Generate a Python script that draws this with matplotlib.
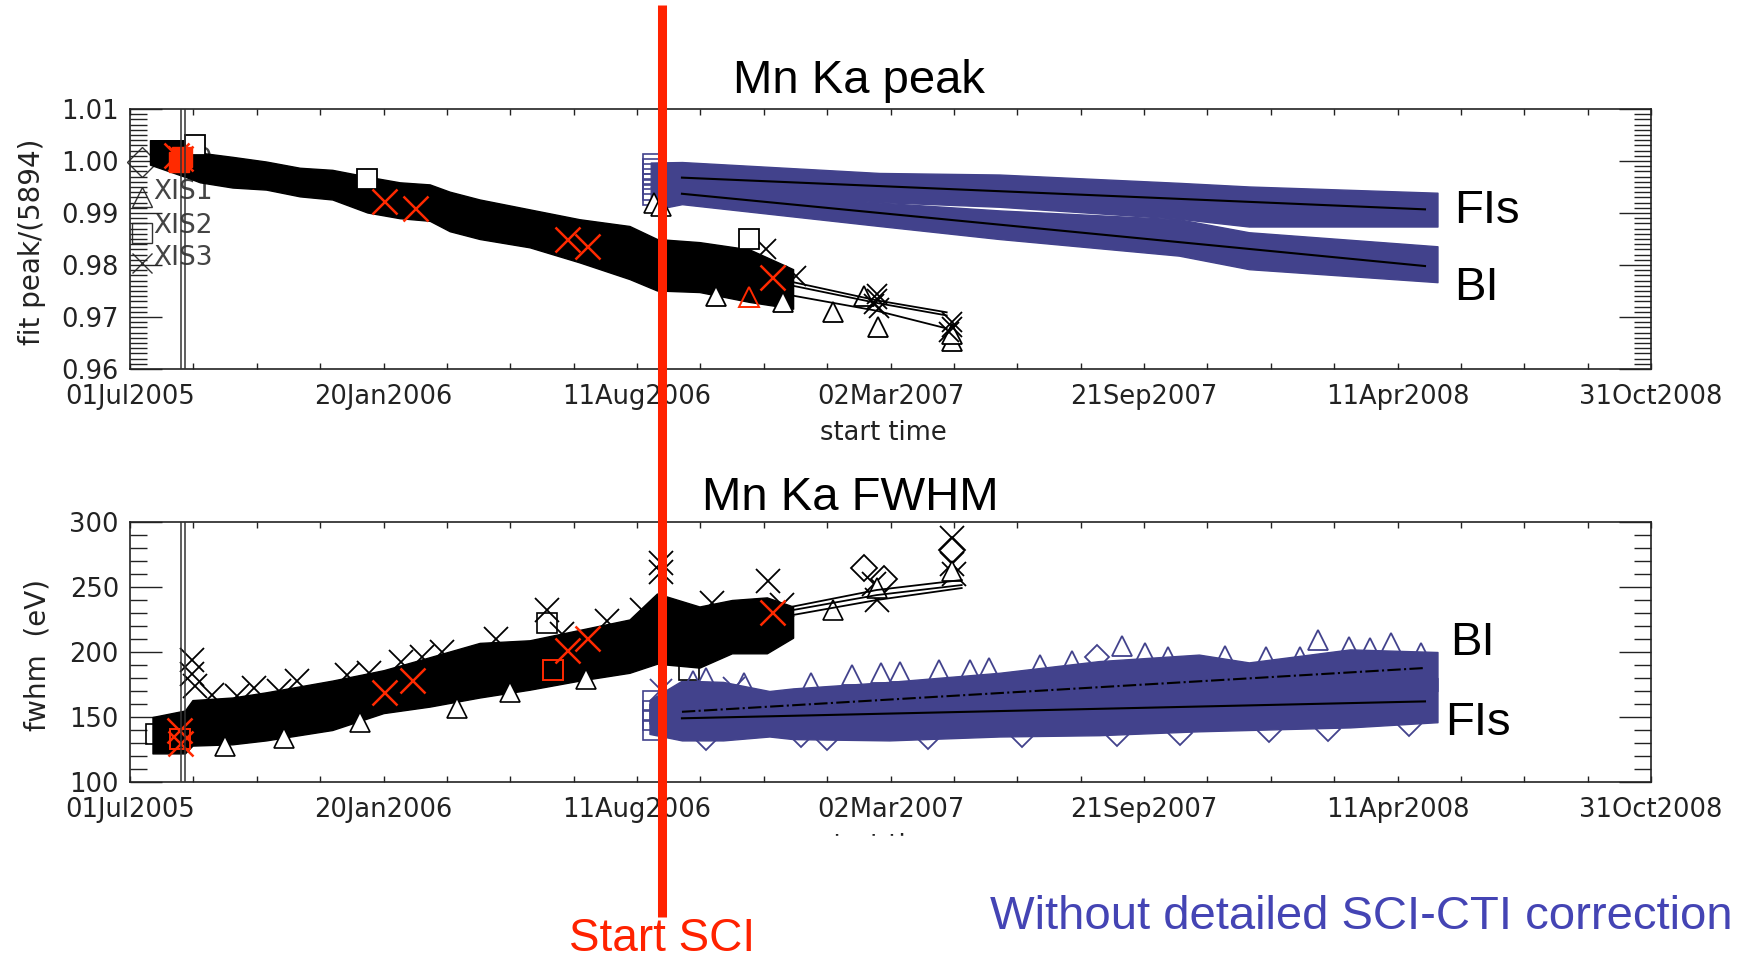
import pandas as pd
import matplotlib
matplotlib.use('Agg')
import matplotlib.pyplot as plt
import matplotlib.dates as mdates
from matplotlib.ticker import FixedLocator, MultipleLocator, FormatStrFormatter
from matplotlib.transforms import blended_transform_factory
from matplotlib.patches import Rectangle

plt.rcParams['font.family'] = ['DejaVu Sans']

BLUE = '#42428c'
RED = '#ff2a00'
W, H = 1738, 961

# ---------------- Mn Ka peak (upper panel) ----------------
# pre-SCI cloud of all four XIS, lower / upper envelope
pk_pre_t = ['2005-07-17', '2005-08-16', '2005-08-26', '2005-09-21', '2005-10-18', '2005-11-14',
            '2005-12-10', '2006-01-07', '2006-02-02', '2006-02-26', '2006-03-14', '2006-04-07',
            '2006-05-17', '2006-06-26', '2006-08-05', '2006-08-27', '2006-09-30', '2006-11-09',
            '2006-12-14']
pk_pre_lo = [0.9993, 0.9968, 0.9959, 0.9949, 0.9945, 0.9932, 0.9926, 0.9901, 0.9890, 0.9885,
             0.9865, 0.9850, 0.9834, 0.9805, 0.9773, 0.9751, 0.9748, 0.9729, 0.9716]
pk_pre_hi = [1.0040, 1.0040, 1.0016, 1.0008, 0.9999, 0.9987, 0.9983, 0.9970, 0.9959, 0.9955,
             0.9941, 0.9926, 0.9907, 0.9888, 0.9875, 0.9850, 0.9844, 0.9830, 0.9792]

# sparse pre-SCI points after the cloud
pk_tri_t = ['2006-10-13', '2006-12-06', '2007-01-15', '2007-02-09', '2007-02-20', '2007-04-20', '2007-04-20']
pk_tri_v = [0.9740, 0.9729, 0.9710, 0.9741, 0.9681, 0.9653, 0.9668]
pk_x_t = ['2006-11-22', '2006-12-16', '2007-02-19', '2007-02-19', '2007-02-17', '2007-02-21',
          '2007-04-20', '2007-04-20', '2007-04-18']
pk_x_v = [0.9830, 0.9779, 0.9745, 0.9735, 0.9725, 0.9718, 0.9690, 0.9680, 0.9672]
pk_sq_t = ['2006-11-09', '2006-01-07', '2005-08-22']
pk_sq_v = [0.9850, 0.9965, 1.0030]

# per-sensor trend lines (pre-SCI tail)
pk_line_t = ['2006-12-14', '2007-02-19', '2007-04-16']
pk_line1 = [0.9767, 0.9732, 0.9709]
pk_line2 = [0.9760, 0.9727, 0.9703]
pk_line3 = [0.9741, 0.9712, 0.9678]

# red sensor points
pk_red_t = ['2005-08-07', '2005-08-10', '2006-01-20', '2006-02-14', '2006-06-16', '2006-07-02', '2006-11-27']
pk_red_v = [1.0012, 1.0006, 0.9923, 0.9910, 0.9850, 0.9837, 0.9777]
pk_red_tri_t = ['2006-11-09']
pk_red_tri_v = [0.9739]
pk_red_sq_t = ['2005-08-09', '2005-08-12']
pk_red_sq_v = [0.9999, 1.0008]

# post-SCI, FIs and BI clouds
pk_fi_t = ['2006-08-22', '2006-09-16', '2007-02-21', '2007-05-28', '2007-10-19', '2007-12-14', '2008-05-13']
pk_fi_lo = [0.9950, 0.9945, 0.9921, 0.9912, 0.9889, 0.9874, 0.9874]
pk_fi_hi = [0.9997, 0.9998, 0.9977, 0.9974, 0.9958, 0.9951, 0.9939]
pk_bi_t = ['2006-08-22', '2006-09-16', '2007-02-21', '2007-05-28', '2007-10-19', '2007-12-14', '2008-05-13']
pk_bi_lo = [0.9905, 0.9917, 0.9875, 0.9850, 0.9818, 0.9792, 0.9767]
pk_bi_hi = [0.9950, 0.9950, 0.9920, 0.9905, 0.9888, 0.9863, 0.9836]
pk_fit_t = ['2006-09-16', '2008-05-03']
pk_fi_fit = [0.9968, 0.9907]
pk_bi_fit = [0.9937, 0.9798]
pk_start_sq_t = ['2006-08-24'] * 7
pk_start_sq_v = [0.9995, 0.9985, 0.9975, 0.9965, 0.9955, 0.9945, 0.9935]
pk_start_tri_t = ['2006-08-25', '2006-08-30']
pk_start_tri_v = [0.9920, 0.9913]

# ---------------- Mn Ka FWHM (lower panel) ----------------
fw_pre_t = ['2005-07-19', '2005-08-14', '2005-08-20', '2005-09-21', '2005-10-18', '2005-12-10',
            '2006-01-20', '2006-02-26', '2006-04-07', '2006-05-17', '2006-06-26', '2006-08-05',
            '2006-08-27', '2006-09-30', '2006-10-26', '2006-11-23', '2006-12-14']
fw_pre_lo = [122, 122, 128, 129, 132, 140, 153, 158, 165, 171, 178, 184, 191, 188, 199, 199, 211]
fw_pre_hi = [150, 155, 163, 165, 169, 178, 186, 196, 207, 209, 217, 225, 245, 235, 240, 242, 235]

fw_x_t = ['2005-08-20', '2005-08-20', '2005-08-22', '2005-09-05', '2005-09-25', '2005-10-08',
          '2005-10-28', '2005-11-12', '2005-12-22', '2006-01-08', '2006-02-03', '2006-02-20',
          '2006-03-08', '2006-04-20', '2006-05-31', '2006-06-12', '2006-07-18', '2006-08-15',
          '2006-08-30', '2006-08-30', '2006-10-10', '2006-11-24', '2006-12-05', '2007-02-19',
          '2007-02-17', '2007-04-20', '2007-04-20', '2007-04-22']
fw_x_v = [194, 183, 174, 167, 166, 172, 170, 178, 182, 184, 192, 196, 200, 210, 232, 214,
          224, 232, 268.5, 261.5, 238, 255, 236, 240, 252, 287.7, 268, 260]
fw_dia_t = ['2007-02-09', '2007-04-20', '2007-02-25']
fw_dia_v = [264.6, 278.5, 256]
fw_tri_t = ['2005-09-15', '2005-11-01', '2006-01-01', '2006-03-20', '2006-05-01', '2006-07-01',
            '2007-01-15', '2007-02-19', '2007-04-20']
fw_tri_v = [128, 134, 146, 157, 169, 179, 232.3, 249, 262]
fw_sq_t = ['2005-07-22', '2006-05-31', '2006-09-22']
fw_sq_v = [137, 222, 186]

fw_line_t = ['2006-12-14', '2007-02-19', '2007-04-28']
fw_line1 = [235.0, 247.7, 255.4]
fw_line2 = [232.3, 243.8, 251.5]
fw_line3 = [228.5, 240.0, 249.2]

fw_red_t = ['2005-08-09', '2005-08-10', '2006-01-20', '2006-02-12', '2006-06-16', '2006-07-02', '2006-11-27']
fw_red_v = [140, 130, 169, 178.5, 201.5, 210.8, 230.8]
fw_red_sq_t = ['2005-08-10', '2006-06-05']
fw_red_sq_v = [133, 186]

fw_fi_t = ['2006-08-21', '2006-09-16', '2006-10-19', '2006-11-25', '2006-12-14', '2007-03-01',
           '2007-05-28', '2007-08-16', '2007-11-04', '2007-12-14', '2008-03-04', '2008-05-13']
fw_fi_lo = [137, 132, 132, 135, 133, 132, 135, 136, 139, 140, 142, 146]
fw_fi_hi = [160, 168, 168, 166, 167, 170, 172, 175, 178, 178, 180, 180]
fw_bi_lo = [145, 140, 142, 145, 146, 148, 152, 158, 162, 164, 166, 170]
fw_bi_hi = [163, 178, 177, 170, 172, 177, 184, 193, 198, 192, 202, 200]
fw_fit_t = ['2006-09-16', '2008-05-03']
fw_fi_fit = [149, 162]
fw_bi_fit = [154, 187.7]
fw_bi_tri_t = ['2006-09-25', '2006-10-05', '2006-11-05', '2006-12-28', '2007-01-30', '2007-02-22',
               '2007-03-10', '2007-04-10', '2007-05-05', '2007-05-20', '2007-06-30', '2007-07-25',
               '2007-09-03', '2007-09-22', '2007-10-10', '2007-11-25', '2007-12-28', '2008-01-24',
               '2008-02-07', '2008-03-03', '2008-03-20', '2008-04-06', '2008-04-30']
fw_bi_tri_v = [178, 180, 176, 176, 182, 184, 185, 186, 186, 187.7, 190, 193, 205, 199, 196,
               197, 196, 196, 209, 204, 203, 207, 199]
fw_bi_dia_t = ['2007-08-14', '2006-10-05', '2006-12-20', '2007-01-10', '2007-04-01', '2007-06-15',
               '2007-08-30', '2007-10-20', '2007-12-30', '2008-02-15', '2008-04-20']
fw_bi_dia_v = [196, 134, 136, 134, 135, 136, 137, 138, 140, 141, 145]
fw_bi_x_t = ['2006-10-28', '2006-08-30']
fw_bi_x_v = [172, 171]
fw_start_sq_t = ['2006-08-24'] * 4
fw_start_sq_v = [162, 155, 148, 140]

# x axis (dates)
x_ticks = ['2005-07-01', '2006-01-20', '2006-08-11', '2007-03-02', '2007-09-21', '2008-04-11', '2008-10-31']
sci_start = '2006-08-31'
launch = ['2005-08-11', '2005-08-14']


def d(lst):
    return pd.to_datetime(lst)


fig = plt.figure(figsize=(W / 100, H / 100), dpi=100)
ax1 = fig.add_axes([130 / W, 1 - 369 / H, 1521 / W, 260 / H])
ax2 = fig.add_axes([130 / W, 1 - 782 / H, 1521 / W, 260 / H])

major = d(x_ticks)
minor = [major[0] + (major[1] - major[0]) * k / 4 for k in range(25)]

for ax in (ax1, ax2):
    ax.set_xlim(major[0], major[-1])
    ax.xaxis.set_major_locator(FixedLocator(mdates.date2num(major)))
    ax.xaxis.set_minor_locator(FixedLocator(mdates.date2num(minor)))
    ax.xaxis.set_major_formatter(mdates.DateFormatter('%d%b%Y'))
    ax.tick_params(axis='x', which='both', direction='in', top=True, length=4.5, width=1,
                   pad=11, labelsize=18.5, colors='#222')
    ax.tick_params(axis='y', which='both', direction='in', right=True, width=1,
                   pad=8, labelsize=18.5, colors='#222')
    ax.tick_params(axis='y', which='major', length=23)
    ax.tick_params(axis='y', which='minor', length=12)
    for s in ax.spines.values():
        s.set_linewidth(1.2)
        s.set_color('#222')
    for lt in d(launch):
        ax.axvline(lt, color='#333', lw=1.1, zorder=6)

# ---- upper panel ----
ax1.set_ylim(0.96, 1.01)
ax1.yaxis.set_major_locator(MultipleLocator(0.01))
ax1.yaxis.set_minor_locator(MultipleLocator(0.001))
ax1.yaxis.set_major_formatter(FormatStrFormatter('%.2f'))

# legend of the sensors (under the cloud)
leg_sym = ['D', '^', 's', 'x']
leg_txt = ['XIS0', 'XIS1', 'XIS2', 'XIS3']
leg_ys = [0.796, 0.662, 0.523, 0.408]
leg_yt = [0.804, 0.681, 0.550, 0.427]
for m, t, ys, yt in zip(leg_sym, leg_txt, leg_ys, leg_yt):
    ax1.plot(0.008, ys, m, transform=ax1.transAxes, ms=15, mfc='none', mec='#333',
             mew=1.0, clip_on=False, zorder=1)
    ax1.text(0.0152, yt, t, transform=ax1.transAxes, fontsize=19, color='#444',
             va='center', ha='left', zorder=1)

ax1.fill_between(d(pk_pre_t), pk_pre_lo, pk_pre_hi, color='black', lw=1, zorder=2)
ax1.plot(d(pk_tri_t), pk_tri_v, '^', ms=15, mfc='white', mec='black', mew=1.3, ls='none', zorder=3)
ax1.plot(d(pk_x_t), pk_x_v, 'x', ms=15, color='black', mew=1.3, ls='none', zorder=3)
ax1.plot(d(pk_sq_t), pk_sq_v, 's', ms=15, mfc='white', mec='black', mew=1.3, ls='none', zorder=3)
for ln in (pk_line1, pk_line2, pk_line3):
    ax1.plot(d(pk_line_t), ln, color='black', lw=1.3, zorder=3)
ax1.plot(d(pk_red_t), pk_red_v, 'x', ms=18, color=RED, mew=1.8, ls='none', zorder=4)
ax1.plot(d(pk_red_tri_t), pk_red_tri_v, '^', ms=15, mfc='none', mec=RED, mew=1.4, ls='none', zorder=4)
ax1.plot(d(pk_red_sq_t), pk_red_sq_v, 's', ms=14, color=RED, ls='none', zorder=4)

ax1.fill_between(d(pk_fi_t), pk_fi_lo, pk_fi_hi, color=BLUE, lw=1, zorder=2)
ax1.fill_between(d(pk_bi_t), pk_bi_lo, pk_bi_hi, color=BLUE, lw=1, zorder=2)
ax1.plot(d(pk_start_sq_t), pk_start_sq_v, 's', ms=15, mfc='none', mec=BLUE, mew=1.2, ls='none', zorder=3)
ax1.plot(d(pk_start_tri_t), pk_start_tri_v, '^', ms=14, mfc='white', mec='black', mew=1.2, ls='none', zorder=3)
ax1.plot(d(pk_fit_t), pk_fi_fit, color='black', lw=1.5, zorder=4)
ax1.plot(d(pk_fit_t), pk_bi_fit, color='black', lw=1.5, zorder=4)

# ---- lower panel ----
ax2.set_ylim(100, 300)
ax2.yaxis.set_major_locator(MultipleLocator(50))
ax2.yaxis.set_minor_locator(MultipleLocator(10))
ax2.yaxis.set_major_formatter(FormatStrFormatter('%d'))

ax2.fill_between(d(fw_pre_t), fw_pre_lo, fw_pre_hi, color='black', lw=1, zorder=2)
ax2.plot(d(fw_x_t), fw_x_v, 'x', ms=17, color='black', mew=1.3, ls='none', zorder=3)
ax2.plot(d(fw_dia_t), fw_dia_v, 'D', ms=13, mfc='none', mec='black', mew=1.3, ls='none', zorder=3)
ax2.plot(d(fw_tri_t), fw_tri_v, '^', ms=14, mfc='white', mec='black', mew=1.2, ls='none', zorder=3)
ax2.plot(d(fw_sq_t), fw_sq_v, 's', ms=14, mfc='none', mec='black', mew=1.2, ls='none', zorder=3)
for ln in (fw_line1, fw_line2, fw_line3):
    ax2.plot(d(fw_line_t), ln, color='black', lw=1.3, zorder=3)
ax2.plot(d(fw_red_t), fw_red_v, 'x', ms=18, color=RED, mew=1.8, ls='none', zorder=4)
ax2.plot(d(fw_red_sq_t), fw_red_sq_v, 's', ms=14, mfc='none', mec=RED, mew=1.4, ls='none', zorder=4)

ax2.fill_between(d(fw_fi_t), fw_fi_lo, fw_fi_hi, color=BLUE, lw=1, zorder=2)
ax2.fill_between(d(fw_fi_t), fw_bi_lo, fw_bi_hi, color=BLUE, lw=1, zorder=2)
ax2.plot(d(fw_bi_tri_t), fw_bi_tri_v, '^', ms=15, mfc='none', mec=BLUE, mew=1.3, ls='none', zorder=3)
ax2.plot(d(fw_bi_dia_t), fw_bi_dia_v, 'D', ms=12, mfc='none', mec=BLUE, mew=1.3, ls='none', zorder=3)
ax2.plot(d(fw_bi_x_t), fw_bi_x_v, 'x', ms=16, color=BLUE, mew=1.3, ls='none', zorder=3)
ax2.plot(d(fw_start_sq_t), fw_start_sq_v, 's', ms=15, mfc='none', mec=BLUE, mew=1.2, ls='none', zorder=3)
ax2.plot(d(fw_fit_t), fw_fi_fit, color='black', lw=1.5, zorder=4)
ax2.plot(d(fw_fit_t), fw_bi_fit, '-.', color='black', lw=1.5, zorder=4)

# ---- overlay in pixel coordinates ----
axo = fig.add_axes([0, 0, 1, 1], zorder=10)
axo.set_xlim(0, W)
axo.set_ylim(H, 0)
axo.axis('off')
axo.patch.set_alpha(0)

tk = dict(fontsize=18.5, color='#222', ha='center', va='center', zorder=0.5)
axo.text(883, 433, 'start time', **tk)
axo.text(883, 846, 'start time', **tk)
# lower x title is cut by the slide, only its top shows
axo.add_patch(Rectangle((0, 836), W, H - 836, color='white', zorder=1))
axo.text(32, 242, 'fit peak/(5894)', rotation=90, fontsize=20, color='#222', ha='center', va='center')
axo.text(38, 655, 'fwhm  (eV)', rotation=90, fontsize=20, color='#222', ha='center', va='center')

big = dict(fontsize=34, family='Liberation Sans', color='black')
axo.text(859, 93, 'Mn Ka peak', ha='center', va='baseline', **big)
axo.text(850, 510, 'Mn Ka FWHM', ha='center', va='baseline', **big)
axo.text(1454, 223, 'FIs', ha='left', va='baseline', **big)
axo.text(1454, 300, 'BI', ha='left', va='baseline', **big)
axo.text(1450, 655, 'BI', ha='left', va='baseline', **big)
axo.text(1445, 735, 'FIs', ha='left', va='baseline', **big)

tr = blended_transform_factory(ax1.transData, axo.transData)
sci = mdates.date2num(pd.Timestamp(sci_start))
axo.plot([sci, sci], [5, 917], transform=tr, color='#ff2200', lw=6.5, solid_capstyle='butt', zorder=3)
axo.text(sci, 951, 'Start SCI', transform=tr, fontsize=33, family='Liberation Sans',
         color='#ff2200', ha='center', va='baseline', zorder=4)
axo.text(990, 929, 'Without detailed SCI-CTI correction', fontsize=34, family='Liberation Sans',
         color='#4444b4', ha='left', va='baseline', zorder=4)

fig.savefig('out.png', dpi=100)
